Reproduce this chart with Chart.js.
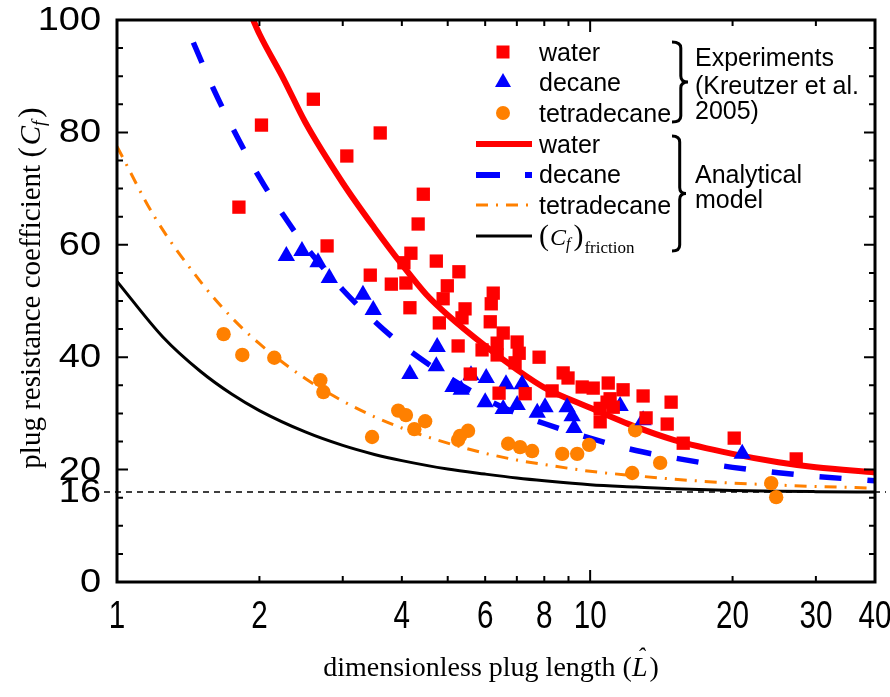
<!DOCTYPE html>
<html>
<head>
<meta charset="utf-8">
<script src="https://cdn.jsdelivr.net/npm/chart.js@4.4.0/dist/chart.umd.min.js"></script>
<style>
  html, body { margin: 0; padding: 0; background: #fff; }
</style>
</head>
<body>
<canvas id="cfChart" width="890" height="697"></canvas>
<script>
// Experiments (Kreutzer et al. 2005)
const waterExpL  = [1.81, 2.02, 2.60, 3.06, 3.60, 4.44, 4.33, 2.78, 4.18, 4.04, 4.73, 5.28, 3.43, 3.80, 4.08, 4.99, 4.89, 6.24, 5.44, 4.16, 4.80, 5.36, 6.18, 6.15, 6.55, 5.26, 5.91, 6.36, 6.36, 7.01, 7.08, 6.94, 7.80, 5.58, 7.29, 6.42, 8.77, 8.98, 8.31, 9.62, 10.15, 10.92, 11.74, 11.02, 10.50, 10.50, 12.94, 13.13, 14.83, 14.55, 15.73, 20.16, 27.26, 10.86, 11.19];
const waterExpCf = [66.7, 81.3, 85.9, 75.8, 79.9, 69.0, 63.7, 59.8, 58.5, 56.8, 57.1, 55.2, 54.6, 53.0, 53.2, 52.7, 50.4, 51.4, 48.6, 48.8, 46.1, 47.0, 49.5, 46.3, 44.3, 42.0, 41.3, 42.5, 40.4, 42.7, 40.7, 39.0, 40.0, 37.0, 33.5, 33.6, 37.2, 36.3, 34.0, 34.7, 34.5, 35.4, 34.2, 32.6, 30.9, 28.5, 33.1, 29.2, 32.0, 28.1, 24.7, 25.6, 21.9, 32.0, 31.1];

const decaneExpL  = [2.28, 2.46, 2.66, 2.81, 3.31, 3.48, 4.16, 4.75, 4.73, 5.13, 5.34, 5.60, 6.03, 6.64, 7.18, 6.00, 6.55, 7.01, 7.73, 8.03, 8.94, 9.16, 9.25, 11.57, 12.94, 20.96];
const decaneExpCf = [58.0, 58.9, 56.9, 54.1, 51.1, 48.4, 37.0, 41.8, 38.4, 34.7, 34.2, 36.8, 36.3, 35.2, 35.2, 32.0, 30.8, 31.5, 30.1, 31.1, 31.1, 29.5, 27.4, 31.3, 28.8, 22.8];

const tetraExpL  = [1.68, 1.84, 2.15, 2.69, 2.73, 3.46, 3.93, 4.08, 4.48, 4.25, 5.52, 5.31, 5.26, 6.71, 7.11, 7.54, 8.73, 9.39, 9.95, 12.27, 12.45, 14.06, 24.14, 24.73];
const tetraExpCf = [44.1, 40.4, 39.9, 35.9, 33.8, 25.8, 30.5, 29.7, 28.6, 27.2, 26.9, 26.0, 25.3, 24.6, 24.0, 23.3, 22.8, 22.8, 24.4, 19.4, 27.0, 21.2, 17.6, 15.1];

// Analytical model curves
const waterModelL  = [1.94, 2, 2.25, 2.5, 3, 3.5, 4, 4.5, 5, 6, 7, 8, 10, 12.5, 15, 20, 25, 30, 40];
const waterModelCf = [100, 97.5, 89.5, 81.8, 71, 63, 56.5, 51.2, 47.5, 42, 37.8, 34.6, 31, 27.6, 25.3, 22.8, 21.3, 20.4, 19.5];

const decaneModelL  = [1.45, 1.6, 1.8, 2, 2.25, 2.5, 3, 3.5, 4, 5, 6, 7, 8, 10, 12.5, 15, 20, 25, 30, 40];
const decaneModelCf = [96, 87.7, 79, 72, 65.2, 59.8, 52, 46.4, 42.2, 36.5, 32.6, 30, 28.2, 25.6, 23.4, 22.1, 20.4, 19.45, 18.8, 18];

const tetraModelL  = [1, 1.2, 1.5, 1.75, 2, 2.5, 3, 3.5, 4, 5, 6, 7, 8, 10, 12.5, 15, 20, 25, 30, 40];
const tetraModelCf = [77.5, 65, 53.5, 47, 42.4, 36.2, 32.2, 29.4, 27.4, 24.7, 22.9, 21.7, 20.9, 19.7, 18.9, 18.3, 17.6, 17.25, 17, 16.7];

const frictionL  = [1, 1.25, 1.5, 1.75, 2, 2.5, 3, 3.5, 4, 5, 6, 7, 8, 10, 12.5, 15, 20, 25, 30, 40];
const frictionCf = [53.5, 43.6, 37.5, 33.4, 30.5, 26.7, 24.3, 22.7, 21.6, 20.1, 19.2, 18.5, 18.0, 17.3, 16.9, 16.6, 16.3, 16.15, 16.08, 16];

const frictionLimit = 16;

// axis ticks
const xTickLabels = [1, 2, 4, 6, 8, 10, 20, 30, 40];
const xTickMarks  = [1, 2, 3, 4, 5, 6, 7, 8, 9, 10, 20, 30];
const xMajor      = [1, 10];
const yTickLabels = [0, 16, 20, 40, 60, 80, 100];
const yTickMarks  = [0, 5, 10, 15, 20, 25, 30, 35, 40, 45, 50, 55, 60, 65, 70, 75, 80, 85, 90, 95, 100];

const RED = '#ff0000', BLUE = '#0000ff', ORANGE = '#ff8000';
const SANS = '"Liberation Sans", Arial, sans-serif';
const SERIF = '"Liberation Serif", "Times New Roman", serif';

const pts = (xs, ys) => xs.map((x, i) => ({ x, y: ys[i] }));

const TETRA_DASH = [12, 8, 2, 8];
const DECANE_DASH = [22, 26];

// text with horizontal stretch
function sText(ctx, txt, x, y, sx, align) {
    ctx.save();
    ctx.translate(x, y);
    ctx.scale(sx, 1);
    ctx.textAlign = align;
    ctx.fillText(txt, 0, 0);
    ctx.restore();
}

// runs of mixed-style text drawn one after another
function drawRuns(ctx, runs, x, y) {
    let cx = x;
    runs.forEach(r => {
        ctx.font = r.font;
        ctx.fillText(r.t, cx + (r.dx || 0), y + (r.dy || 0));
        cx += ctx.measureText(r.t).width + (r.dx || 0) + (r.after || 0);
    });
}
function runsWidth(ctx, runs) {
    return runs.reduce((w, r) => { ctx.font = r.font; return w + ctx.measureText(r.t).width + (r.dx || 0) + (r.after || 0); }, 0);
}

function brace(ctx, x, y1, y2, w) {
    const ym = (y1 + y2) / 2, xm = x + w * 0.55, r = 6;
    ctx.beginPath();
    ctx.moveTo(x, y1);
    ctx.quadraticCurveTo(xm, y1, xm, y1 + r);
    ctx.lineTo(xm, ym - r);
    ctx.quadraticCurveTo(xm, ym, x + w, ym);
    ctx.quadraticCurveTo(xm, ym, xm, ym + r);
    ctx.lineTo(xm, y2 - r);
    ctx.quadraticCurveTo(xm, y2, x, y2);
    ctx.stroke();
}

const frame = {
    id: 'frame',
    beforeDatasetsDraw(chart) {
        const { ctx, scales: { y } } = chart;
        const py = y.getPixelForValue(frictionLimit);
        ctx.save();
        ctx.strokeStyle = '#000';
        ctx.lineWidth = 1.5;
        ctx.setLineDash([6, 5]);
        ctx.beginPath();
        ctx.moveTo(104, py);
        ctx.lineTo(886, py);
        ctx.stroke();
        ctx.restore();
    },
    afterDatasetsDraw(chart) {
        const { ctx, chartArea: a, scales: { x, y } } = chart;
        ctx.save();
        ctx.strokeStyle = '#000';
        ctx.fillStyle = '#000';

        // box
        ctx.lineWidth = 3;
        ctx.strokeRect(a.left, a.top, a.right - a.left, a.bottom - a.top);

        // tick marks, inward on all four sides
        ctx.lineWidth = 2;
        ctx.beginPath();
        yTickMarks.forEach(v => {
            const py = y.getPixelForValue(v);
            const len = v % 20 === 0 ? 11 : 6;
            ctx.moveTo(a.left, py); ctx.lineTo(a.left + len, py);
            ctx.moveTo(a.right, py); ctx.lineTo(a.right - len, py);
        });
        xTickMarks.forEach(v => {
            const px = x.getPixelForValue(v);
            const len = xMajor.includes(v) ? 12 : 6;
            ctx.moveTo(px, a.bottom); ctx.lineTo(px, a.bottom - len);
            ctx.moveTo(px, a.top); ctx.lineTo(px, a.top + len);
        });
        ctx.stroke();

        // tick labels
        ctx.font = '33px ' + SANS;
        ctx.textBaseline = 'middle';
        yTickLabels.forEach(v => sText(ctx, String(v), 101, y.getPixelForValue(v) + 1, 1.15, 'right'));
        ctx.font = '38px ' + SANS;
        ctx.textBaseline = 'alphabetic';
        xTickLabels.forEach(v => sText(ctx, String(v), x.getPixelForValue(v), 628, 0.78, 'center'));

        // x title
        const xRuns = [
            { t: 'dimensionless plug length (', font: '28px ' + SERIF },
            { t: 'L', font: 'italic 28px ' + SERIF, after: 2 },
            { t: ')', font: '28px ' + SERIF }
        ];
        const xw = runsWidth(ctx, xRuns);
        const x0 = 491 - xw / 2;
        drawRuns(ctx, xRuns, x0, 676);
        ctx.font = '28px ' + SERIF;
        const lx = x0 + (ctx.measureText('dimensionless plug length (').width);
        ctx.font = 'italic 24px ' + SERIF;
        ctx.fillText('\u02C6', lx + 5, 664);

        // y title
        ctx.save();
        ctx.translate(40, 288);
        ctx.rotate(-Math.PI / 2);
        const yRuns = [
            { t: 'plug resistance coefficient ', font: '29px ' + SERIF },
            { t: '(', font: '31px ' + SERIF, after: 2 },
            { t: 'C', font: 'italic 29px ' + SERIF },
            { t: 'f', font: 'italic 19px ' + SERIF, dy: 5, after: 3 },
            { t: ')', font: '31px ' + SERIF }
        ];
        drawRuns(ctx, yRuns, -runsWidth(ctx, yRuns) / 2, 0);
        ctx.restore();

        // legend: symbols
        const sx = 503, lx0 = 476, lx1 = 532, tx = 539;
        ctx.fillStyle = RED;
        ctx.fillRect(sx - 6.5, 52 - 6.5, 13, 13);
        ctx.fillStyle = BLUE;
        ctx.beginPath();
        ctx.moveTo(sx, 82 - 9); ctx.lineTo(sx + 8, 82 + 5); ctx.lineTo(sx - 8, 82 + 5); ctx.closePath(); ctx.fill();
        ctx.fillStyle = ORANGE;
        ctx.beginPath(); ctx.arc(sx, 113, 7, 0, Math.PI * 2); ctx.fill();

        const legLine = (yy, color, width, dash) => {
            ctx.strokeStyle = color; ctx.lineWidth = width; ctx.setLineDash(dash);
            ctx.beginPath(); ctx.moveTo(lx0, yy); ctx.lineTo(lx1, yy); ctx.stroke();
        };
        ctx.lineCap = 'butt';
        legLine(144, RED, 6, []);
        legLine(175, BLUE, 6, [24, 25, 8, 0]);
        legLine(205, ORANGE, 3, TETRA_DASH);
        legLine(236, '#000', 3, []);
        ctx.setLineDash([]);

        // legend: labels
        ctx.fillStyle = '#000';
        ctx.textBaseline = 'alphabetic';
        ctx.textAlign = 'left';
        ctx.font = '25px ' + SANS;
        [['water', 61], ['decane', 91], ['tetradecane', 122], ['water', 153], ['decane', 183], ['tetradecane', 214]]
            .forEach(([t, yy]) => ctx.fillText(t, tx, yy));
        drawRuns(ctx, [
            { t: '(', font: '30px ' + SERIF, after: 1 },
            { t: 'C', font: 'italic 24px ' + SERIF },
            { t: 'f', font: 'italic 16px ' + SERIF, dy: 4, after: 3 },
            { t: ')', font: '30px ' + SERIF, after: 1 },
            { t: 'friction', font: '17px ' + SERIF, dy: 8 }
        ], tx, 245);

        // braces and group labels
        ctx.strokeStyle = '#000';
        ctx.lineWidth = 3;
        brace(ctx, 672, 42, 122, 16);
        brace(ctx, 672, 136, 251, 14);
        ctx.font = '25px ' + SANS;
        ctx.fillText('Experiments', 695, 66);
        ctx.fillText('(Kreutzer et al.', 695, 94);
        ctx.fillText('2005)', 695, 119);
        ctx.fillText('Analytical', 695, 183);
        ctx.fillText('model', 695, 208);

        ctx.restore();
    }
};

const curve = (label, xs, ys, color, width, dash) => ({
    label, data: pts(xs, ys), showLine: true, pointRadius: 0,
    borderColor: color, borderWidth: width, borderDash: dash,
    cubicInterpolationMode: 'monotone', fill: false, clip: 0
});
const marks = (label, xs, ys, color, style, radius) => ({
    label, data: pts(xs, ys), showLine: false, pointStyle: style,
    pointRadius: radius, pointBackgroundColor: color, pointBorderWidth: 0, borderColor: color
});

new Chart(document.getElementById('cfChart'), {
    type: 'scatter',
    data: {
        datasets: [
            marks('water', waterExpL, waterExpCf, RED, 'rect', 9.4),
            marks('decane', decaneExpL, decaneExpCf, BLUE, 'triangle', 10),
            marks('tetradecane', tetraExpL, tetraExpCf, ORANGE, 'circle', 7.2),
            curve('water model', waterModelL, waterModelCf, RED, 6, []),
            curve('decane model', decaneModelL, decaneModelCf, BLUE, 5.5, DECANE_DASH),
            curve('tetradecane model', tetraModelL, tetraModelCf, ORANGE, 3, TETRA_DASH),
            curve('friction', frictionL, frictionCf, '#000', 3, [])
        ]
    },
    options: {
        responsive: false,
        animation: false,
        devicePixelRatio: 1,
        layout: { padding: { left: 117, right: 15, top: 20, bottom: 115 } },
        plugins: { legend: { display: false }, tooltip: { enabled: false } },
        scales: {
            x: { type: 'logarithmic', min: 1, max: 40, display: false },
            y: { type: 'linear', min: 0, max: 100, display: false }
        }
    },
    plugins: [frame]
});
</script>
</body>
</html>
